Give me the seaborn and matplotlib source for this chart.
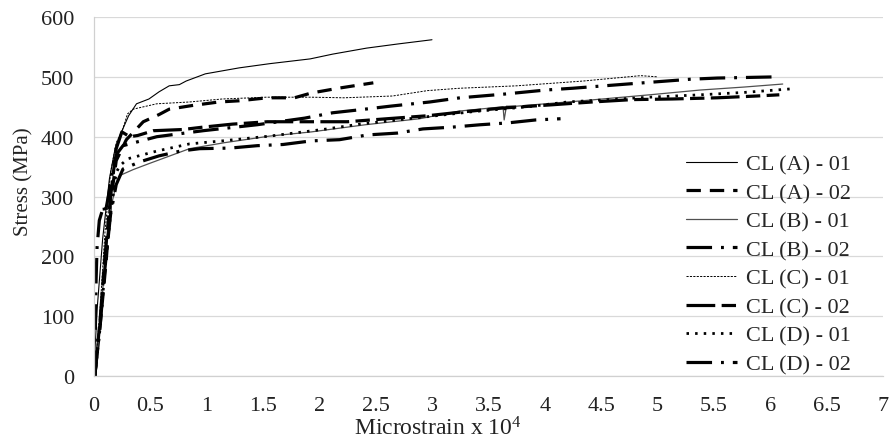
import matplotlib
matplotlib.use("Agg")
import matplotlib.pyplot as plt
import seaborn as sns

# ---------------------------------------------------------------
# data (strain in microstrain x 10^4, stress MPa)
# ---------------------------------------------------------------
a01_x = [0, 0.03, 0.08, 0.14, 0.19, 0.24, 0.31, 0.38, 0.49, 0.58, 0.67, 0.76, 0.82, 0.99, 1.29, 1.56, 1.92, 2.12, 2.42, 2.7, 3.0]
a01_y = [0, 110, 230, 330, 380, 405, 435, 455, 463, 475, 485, 487, 493, 505, 515, 522, 530, 538, 548, 555, 562]

a02_x = [0.01, 0.06, 0.11, 0.15, 0.2, 0.29, 0.44, 0.58, 0.67, 0.87, 1.11, 1.29, 1.54, 1.78, 1.93, 2.17, 2.41, 2.48]
a02_y = [0, 90, 190, 290, 360, 395, 425, 437, 446, 452, 458, 460, 465, 465, 473, 481, 488, 490]

b01_x = [0.01, 0.06, 0.1, 0.15, 0.2, 0.23, 0.35, 0.49, 0.85, 1.16, 1.56, 1.93, 2.41, 2.89, 3.25, 3.47, 3.63, 3.64, 3.66, 3.75, 4.33, 4.93, 5.38, 5.77, 6.11]
b01_y = [0, 95, 190, 280, 320, 335, 345, 355, 380, 390, 401, 408, 420, 430, 443, 447, 450, 428, 451, 451, 460, 470, 478, 483, 488]

b02_x = [0.01, 0.02, 0.03, 0.05, 0.09, 0.1, 0.13, 0.17, 0.2, 0.26, 0.56, 0.97, 1.45, 1.87, 2.12, 2.36, 2.63, 2.98, 3.25, 3.63, 4.01, 4.25, 4.87, 5.29, 5.53, 6.06]
b02_y = [0, 150, 215, 260, 285, 270, 300, 345, 370, 385, 400, 410, 420, 431, 440, 445, 451, 458, 465, 471, 478, 481, 490, 496, 498, 500]

c01_x = [0.01, 0.06, 0.1, 0.15, 0.2, 0.25, 0.3, 0.35, 0.56, 0.85, 1.14, 1.53, 1.93, 2.22, 2.65, 2.96, 3.25, 3.75, 4.34, 4.85, 5.0]
c01_y = [0, 120, 240, 340, 390, 408, 438, 446, 455, 458, 463, 466, 466, 465, 468, 477, 481, 485, 493, 502, 500]

c02_x = [0.01, 0.06, 0.1, 0.15, 0.2, 0.25, 0.32, 0.39, 0.53, 0.79, 0.97, 1.23, 1.54, 1.85, 2.25, 2.6, 2.96, 3.25, 3.63, 4.04, 4.42, 4.78, 5.13, 5.53, 5.88, 6.08]
c02_y = [0, 100, 200, 300, 380, 408, 400, 402, 410, 412, 416, 421, 425, 425, 425, 430, 435, 441, 448, 453, 458, 462, 463, 465, 468, 470]

d01_x = [0.01, 0.06, 0.1, 0.15, 0.2, 0.23, 0.3, 0.56, 0.85, 1.14, 1.56, 2.07, 2.36, 2.6, 2.89, 3.37, 3.85, 4.2, 4.93, 5.38, 5.77, 6.19]
d01_y = [0, 85, 180, 270, 340, 351, 363, 376, 388, 393, 401, 413, 421, 426, 432, 442, 450, 458, 466, 470, 474, 480]

d02_x = [0.01, 0.06, 0.1, 0.15, 0.2, 0.26, 0.41, 0.58, 0.77, 0.94, 1.21, 1.45, 1.68, 1.93, 2.18, 2.43, 2.69, 2.92, 3.18, 3.43, 3.67, 3.92, 4.14]
d02_y = [0, 90, 180, 270, 320, 346, 358, 368, 376, 380, 381, 385, 387, 393, 395, 403, 406, 413, 416, 420, 423, 428, 430]

labels = ["CL (A) - 01", "CL (A) - 02", "CL (B) - 01", "CL (B) - 02",
          "CL (C) - 01", "CL (C) - 02", "CL (D) - 01", "CL (D) - 02"]

x_ticks = [0, 0.5, 1, 1.5, 2, 2.5, 3, 3.5, 4, 4.5, 5, 5.5, 6, 6.5, 7]
x_tick_labels = ["0", "0.5", "1", "1.5", "2", "2.5", "3", "3.5", "4", "4.5", "5", "5.5", "6", "6.5", "7"]
y_ticks = [0, 100, 200, 300, 400, 500, 600]

# ---------------------------------------------------------------
sns.set_theme(style="white")
plt.rcParams["font.family"] = ["Liberation Serif", "DejaVu Serif"]
plt.rcParams["mathtext.default"] = "regular"

fig = plt.figure(figsize=(8.92, 4.39), dpi=100)
ax = fig.add_axes([0.105, 0.141, 0.885, 0.818])

series = [
    (a01_x, a01_y, dict(color="black", lw=0.8, linestyle="-")),
    (a02_x, a02_y, dict(color="black", lw=2.3, linestyle=(0, (4.5, 2.8)))),
    (b01_x, b01_y, dict(color="#505050", lw=0.9, linestyle="-")),
    (b02_x, b02_y, dict(color="black", lw=2.3, linestyle=(0, (8, 2.8, 0.9, 2.8)))),
    (c01_x, c01_y, dict(color="black", lw=0.7, linestyle=(0, (2.2, 1.3)))),
    (c02_x, c02_y, dict(color="black", lw=2.3, linestyle=(0, (9, 2, 4.5, 2)))),
    (d01_x, d01_y, dict(color="black", lw=2.0, linestyle=(0, (0.9, 2.2)))),
    (d02_x, d02_y, dict(color="black", lw=2.3, linestyle=(0, (8, 2.8, 0.9, 2.8)))),
]

for (xs, ys, style), lab in zip(series, labels):
    sns.lineplot(x=xs, y=ys, ax=ax, estimator=None, sort=False, label=lab, **style)

ax.set_xlim(0, 7)
ax.set_ylim(0, 600)
ax.set_xticks(x_ticks)
ax.set_xticklabels(x_tick_labels)
ax.set_yticks(y_ticks)
ax.tick_params(axis="both", length=0, labelsize=16, colors="#222222")
ax.tick_params(axis="y", pad=14)
ax.tick_params(axis="x", pad=14)

ax.grid(axis="y", color="#d9d9d9", lw=0.9)
ax.grid(axis="x", visible=False)
for side in ["top", "right"]:
    ax.spines[side].set_visible(False)
for side in ["left", "bottom"]:
    ax.spines[side].set_color("#d0d0d0")
    ax.spines[side].set_linewidth(0.9)

ax.set_xlabel("Microstrain x 10$^{4}$", fontsize=17, color="#222222")
ax.set_ylabel("Stress (MPa)", fontsize=15, color="#222222")
ax.xaxis.set_label_coords(0.436, -0.112)
ax.yaxis.set_label_coords(-0.076, 0.543)

ax.legend(loc="lower right", bbox_to_anchor=(0.97, -0.02), frameon=False,
          fontsize=16, handlelength=2.3, handletextpad=0.4,
          labelspacing=0.36, borderaxespad=0)

fig.savefig("out.png", dpi=100)
